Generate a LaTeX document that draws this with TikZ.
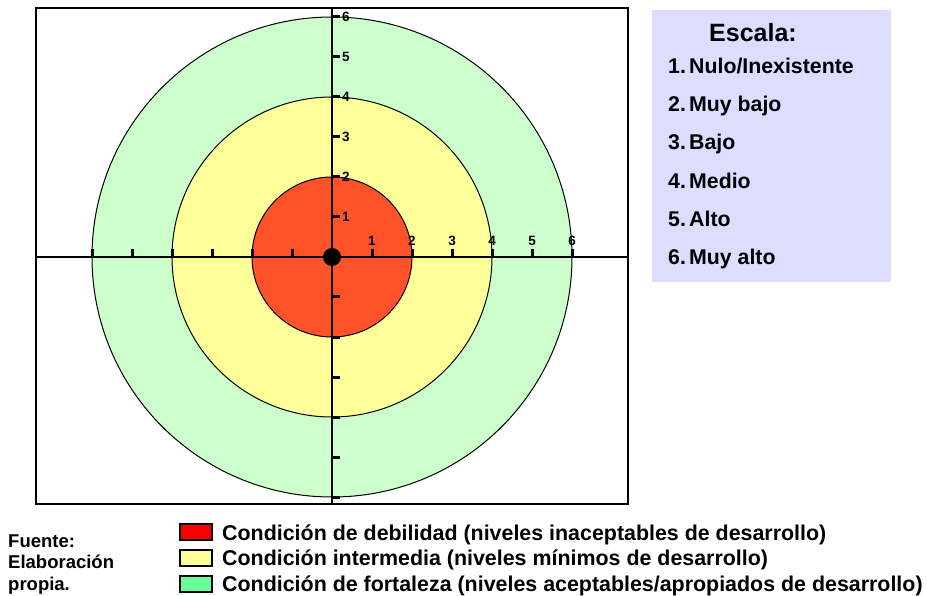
\documentclass[tikz,border=0pt]{standalone}
\usepackage{fontspec}
\setmainfont{Liberation Sans}
\definecolor{ringred}{RGB}{255,82,40}
\definecolor{ringyellow}{RGB}{255,255,153}
\definecolor{ringgreen}{RGB}{204,255,204}
\definecolor{boxblue}{RGB}{221,221,255}
\definecolor{swred}{RGB}{255,0,0}
\definecolor{swyellow}{RGB}{255,255,153}
\definecolor{swgreen}{RGB}{102,255,153}
\tikzset{
  ring/.style={draw=black, line width=1pt},
  axisline/.style={line width=1.8pt},
  tickmark/.style={line width=3pt},
  axlabel/.style={font=\fontsize{13.5}{15}\selectfont\bfseries, inner sep=0pt},
  itemnum/.style={font=\fontsize{21.3}{24}\selectfont\bfseries, inner sep=0pt, anchor=base west},
  itemtext/.style={font=\fontsize{21.3}{24}\selectfont\bfseries, inner sep=0pt, anchor=base west},
  legtext/.style={font=\fontsize{21.4}{24}\selectfont\bfseries, inner sep=0pt, anchor=base west},
  srctext/.style={font=\fontsize{18.5}{20}\selectfont\bfseries, inner sep=0pt, anchor=base west},
  swatch/.style={draw=black, line width=1.3pt}
}
\begin{document}
\begin{tikzpicture}[x=1pt,y=-1pt]
\useasboundingbox (0,0) rectangle (927,596);
% rings
\coordinate (c) at (332,257);
\fill[ringgreen] (c) circle[radius=240pt];
\draw[ring] (c) circle[radius=240pt];
\fill[ringyellow] (c) circle[radius=160pt];
\draw[ring] (c) circle[radius=160pt];
\fill[ringred] (c) circle[radius=80pt];
\draw[ring] (c) circle[radius=80pt];
% frame corners
\coordinate (fl) at (36,257);
\coordinate (fr) at (628,257);
\coordinate (ft) at (332,8);
\coordinate (fb) at (332,504);
% axes
\draw[axisline] (fl) -- (fr);
\draw[axisline] (ft) -- (fb);
% ticks on horizontal axis
\foreach \i in {-6,...,6}{
  \ifnum\i=0\else
  \draw[tickmark] ({332+40*\i},249) -- ({332+40*\i},257);
  \fi
}
% ticks on vertical axis
\foreach \i in {-6,...,6}{
  \ifnum\i=0\else
  \draw[tickmark] (332,{257-40*\i}) -- (340,{257-40*\i});
  \fi
}
% labels
\foreach \i in {1,...,6}{
  \node[axlabel, anchor=base] (hx\i) at ({332+40*\i},246) {\i};
  \node[axlabel, anchor=base west] (vy\i) at (342,{257-40*\i+4.8}) {\i};
}
% center dot
\fill (c) circle[radius=9pt];
% frame
\draw[line width=2.6pt] (36,8) rectangle (628,504);
% scale box
\fill[boxblue] (652,10) rectangle (891,282);
\node[font=\fontsize{25}{28}\selectfont\bfseries, inner sep=0pt, anchor=base] (esc) at (753,41.5) {Escala:};
\node[itemnum] (n1) at (668,74) {1.};
\node[itemtext] (t1) at (689,74) {Nulo/Inexistente};
\node[itemnum] (n2) at (668,111.5) {2.};
\node[itemtext] (t2) at (689,111.5) {Muy bajo};
\node[itemnum] (n3) at (668,150) {3.};
\node[itemtext] (t3) at (689,150) {Bajo};
\node[itemnum] (n4) at (668,188.5) {4.};
\node[itemtext] (t4) at (689,188.5) {Medio};
\node[itemnum] (n5) at (668,227) {5.};
\node[itemtext] (t5) at (689,227) {Alto};
\node[itemnum] (n6) at (668,265) {6.};
\node[itemtext] (t6) at (689,265) {Muy alto};
% source
\node[srctext] (s1) at (8,547) {Fuente:};
\node[srctext] (s2) at (8,568.5) {Elaboración};
\node[srctext] (s3) at (8,590) {propia.};
% legend
\draw[swatch, fill=swred] (180,524) rectangle (212,540);
\draw[swatch, fill=swyellow] (180,550) rectangle (212,566);
\draw[swatch, fill=swgreen] (180,576) rectangle (212,592);
\node[legtext] (l1) at (222,540) {Condición de debilidad (niveles inaceptables de desarrollo)};
\node[legtext] (l2) at (222,565) {Condición intermedia (niveles mínimos de desarrollo)};
\node[legtext] (l3) at (222,591.5) {Condición de fortaleza (niveles aceptables/apropiados de desarrollo)};
\end{tikzpicture}
\end{document}
